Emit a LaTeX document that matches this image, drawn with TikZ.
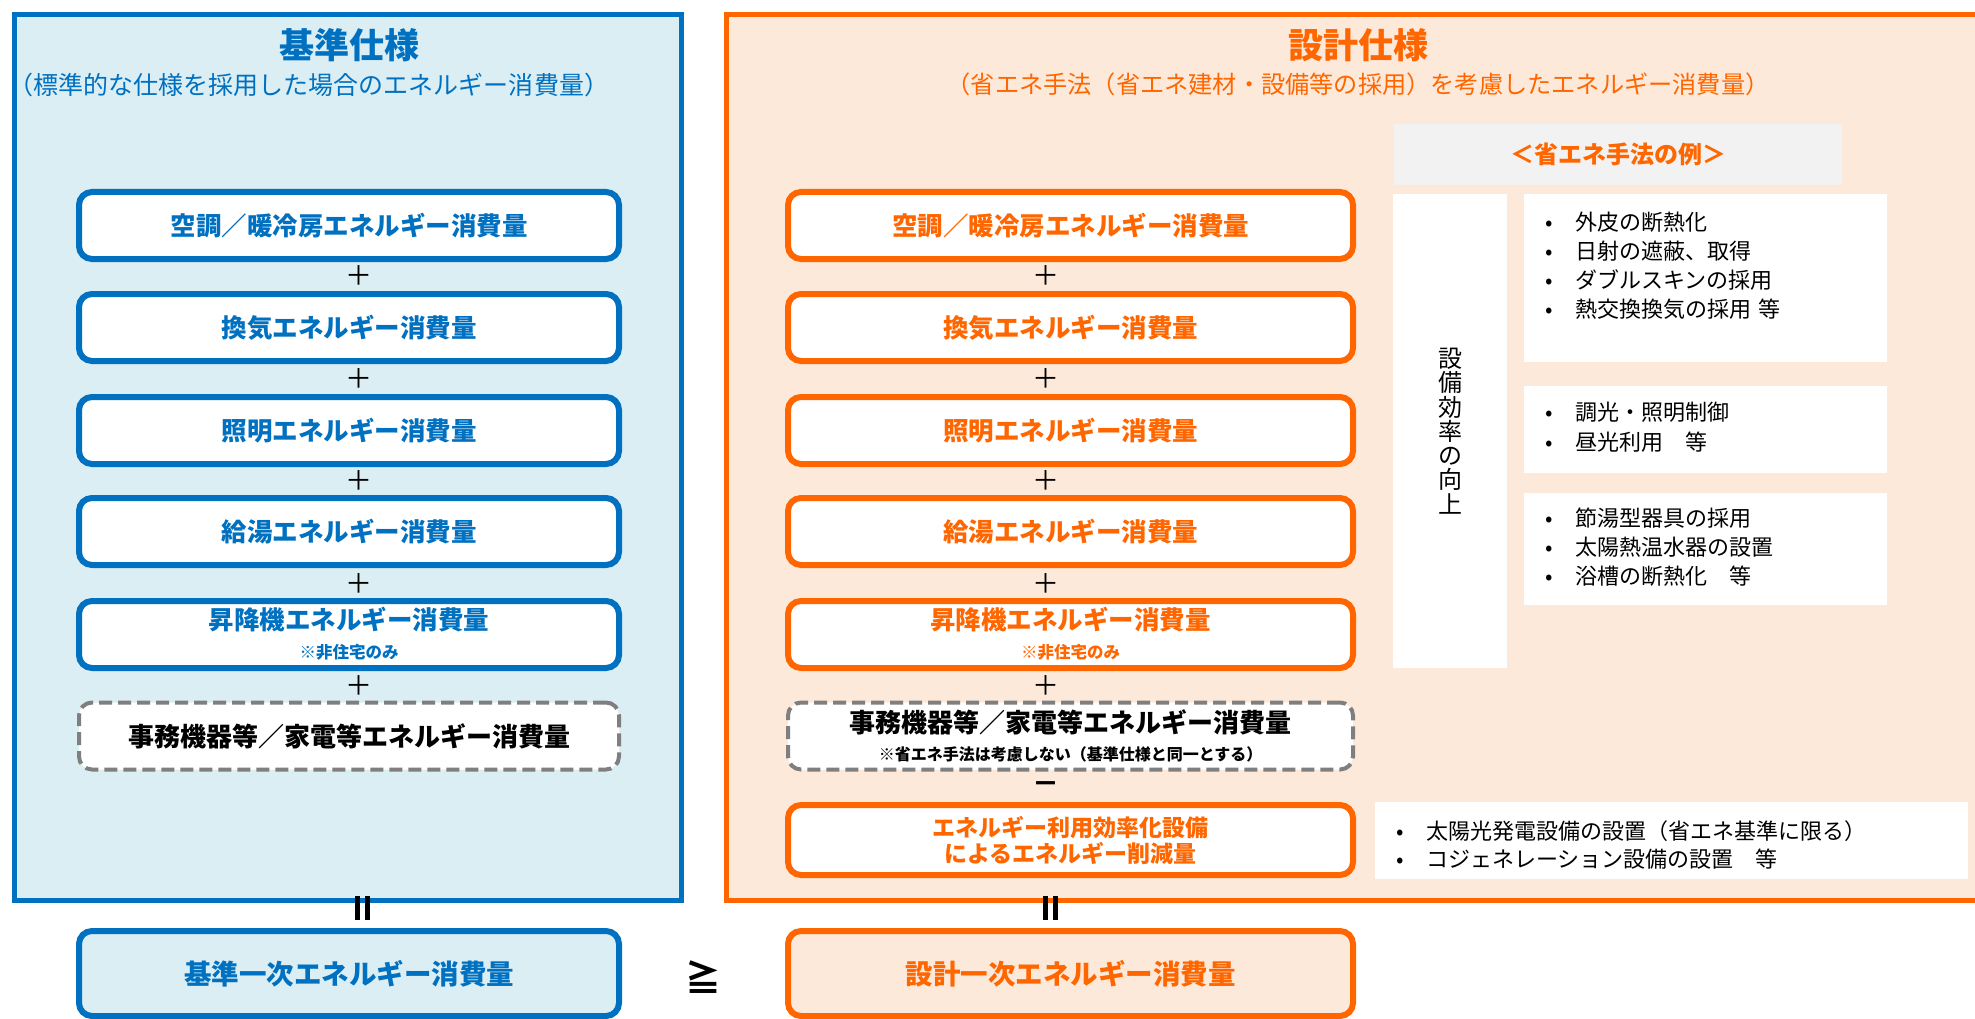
\documentclass[tikz,border=0pt]{standalone}
\usepackage{fontspec}
\setmainfont{Noto Sans CJK JP}
\definecolor{blueC}{HTML}{0070C0}
\definecolor{lblue}{HTML}{DAEEF3}
\definecolor{orangeC}{HTML}{FF6600}
\definecolor{lorange}{HTML}{FDE9D9}
\definecolor{grayD}{HTML}{7F7F7F}
\definecolor{grayF}{HTML}{F2F2F2}
\newcommand{\myfs}[1]{\fontsize{#1}{#1}\selectfont}
\newcommand{\bul}{\makebox[31pt][l]{\makebox[10pt]{•}}}
\newcommand{\vequal}{\rule{5pt}{24pt}\hspace{5pt}\rule{5pt}{24pt}}
\tikzset{
  panelL/.style={draw=blueC,line width=5pt,fill=lblue},
  panelR/.style={draw=orangeC,line width=5pt,fill=lorange},
  ebox/.style={line width=6pt,rounded corners=13pt,fill=white,minimum height=67pt,align=center,inner sep=0pt},
  boxL/.style={ebox,draw=blueC,text=blueC,minimum width=540pt,font=\myfs{25.5}\bfseries},
  boxR/.style={ebox,draw=orangeC,text=orangeC,minimum width=565pt,font=\myfs{25.5}\bfseries},
  dashbox/.style={ebox,draw=grayD,line width=4pt,dash pattern=on 13pt off 6pt,text=black,font=\myfs{26}\bfseries},
  subtxt/.style={inner sep=0pt,font=\myfs{16.5}\bfseries},
  plus/.style={inner sep=0pt,font=\myfs{27},text=black},
  eqs/.style={inner sep=0pt,text=black},
  exbox/.style={fill=white,inner sep=0pt},
  bl/.style={anchor=base west,inner sep=0pt,font=\myfs{22},text=black},
}
\begin{document}
\begin{tikzpicture}[x=1pt,y=-1pt]
\useasboundingbox (0,0) rectangle (1975,1019);
\clip (0,0) rectangle (1975,1019);
\fill[white] (0,0) rectangle (1975,1019);
% panels
\draw[panelL] (14.5,14.5) rectangle (681.5,900.5);
\draw[panelR] (726.5,14.5) rectangle (1995,900.5);
% titles
\node[inner sep=0pt,font=\myfs{35}\bfseries,text=blueC] (TL) at (349,45) {基準仕様};
\node[inner sep=0pt,font=\myfs{25},text=blueC] (STL) at (309,85) {（標準的な仕様を採用した場合のエネルギー消費量）};
\node[inner sep=0pt,font=\myfs{35}\bfseries,text=orangeC] (TR) at (1358,45) {設計仕様};
\node[inner sep=0pt,font=\myfs{24.2},text=orangeC] (STR) at (1358,84) {（省エネ手法（省エネ建材・設備等の採用）を考慮したエネルギー消費量）};
% left column
\node[boxL] (L1) at (349,225.5) {空調／暖冷房エネルギー消費量};
\node[boxL] (L2) at (349,327.5) {換気エネルギー消費量};
\node[boxL] (L3) at (349,430.5) {照明エネルギー消費量};
\node[boxL] (L4) at (349,531.5) {給湯エネルギー消費量};
\node[boxL] (L5) at (349,634.5) {};
\node[inner sep=0pt,font=\myfs{25.5}\bfseries,text=blueC] (L5a) at (349,620) {昇降機エネルギー消費量};
\node[subtxt,text=blueC] (L5b) at (349,652) {※非住宅のみ};
\node[dashbox,minimum width=540pt] (L6) at (349,736) {事務機器等／家電等エネルギー消費量};
\node[boxL,fill=lblue,minimum height=85pt,font=\myfs{27.5}\bfseries] (LF) at (349,973.5) {基準一次エネルギー消費量};
% right column
\node[boxR] (R1) at (1070.5,225.5) {空調／暖冷房エネルギー消費量};
\node[boxR] (R2) at (1070.5,327.5) {換気エネルギー消費量};
\node[boxR] (R3) at (1070.5,430.5) {照明エネルギー消費量};
\node[boxR] (R4) at (1070.5,531.5) {給湯エネルギー消費量};
\node[boxR] (R5) at (1070.5,634.5) {};
\node[inner sep=0pt,font=\myfs{25.5}\bfseries,text=orangeC] (R5a) at (1070.5,620) {昇降機エネルギー消費量};
\node[subtxt,text=orangeC] (R5b) at (1070.5,652) {※非住宅のみ};
\node[dashbox,minimum width=565pt] (R6) at (1070.5,736) {};
\node[inner sep=0pt,font=\myfs{26}\bfseries,text=black] (R6a) at (1070.5,722) {事務機器等／家電等エネルギー消費量};
\node[subtxt,font=\myfs{16}\bfseries,text=black] (R6b) at (1070.5,754) {※省エネ手法は考慮しない（基準仕様と同一とする）};
\node[boxR,minimum height=70pt,font=\fontsize{23}{26}\selectfont\bfseries] (R7) at (1070.5,840) {エネルギー利用効率化設備\\によるエネルギー削減量};
\node[boxR,fill=lorange,minimum height=85pt,font=\myfs{27.5}\bfseries] (RF) at (1070.5,973.5) {設計一次エネルギー消費量};
% operators
\foreach \yy [count=\i] in {276,379,481,584,686} {
  \node[plus] (pl\i) at (359,\yy) {＋};
  \node[plus] (pr\i) at (1046,\yy) {＋};
}
\node[plus,font=\myfs{27}\bfseries] (mn) at (1046,788) {－};
\node[eqs] (eqL) at (362.5,908) {\vequal};
\node[eqs] (eqR) at (1050,908) {\vequal};
\node[inner sep=0pt,font=\myfs{36}\bfseries,text=black] (geq) at (703,977) {≧};
% examples
\node[fill=grayF,inner sep=0pt,minimum width=448pt,minimum height=61pt,font=\myfs{24}\bfseries,text=orangeC] (exh) at (1618,154.5) {＜省エネ手法の例＞};
\node[exbox,minimum width=114pt,minimum height=474pt,align=center,font=\fontsize{24}{24.3}\selectfont] (vt) at (1450,431) {設\\備\\効\\率\\の\\向\\上};
\node[exbox,minimum width=363pt,minimum height=168pt] (ex1) at (1705.5,278) {};
\node[exbox,minimum width=363pt,minimum height=87pt] (ex2) at (1705.5,429.5) {};
\node[exbox,minimum width=363pt,minimum height=112pt] (ex3) at (1705.5,549) {};
\node[exbox,minimum width=593pt,minimum height=77pt] (ex4) at (1671.5,840.5) {};
\node[bl] (e1a) at (1544,230) {\bul 外皮の断熱化};
\node[bl] (e1b) at (1544,259) {\bul 日射の遮蔽、取得};
\node[bl] (e1c) at (1544,288) {\bul ダブルスキンの採用};
\node[bl] (e1d) at (1544,317) {\bul 熱交換換気の採用\hspace{7pt}等};
\node[bl] (e2a) at (1544,420) {\bul 調光・照明制御};
\node[bl] (e2b) at (1544,450) {\bul 昼光利用　等};
\node[bl] (e3a) at (1544,526) {\bul 節湯型器具の採用};
\node[bl] (e3b) at (1544,555) {\bul 太陽熱温水器の設置};
\node[bl] (e3c) at (1544,584) {\bul 浴槽の断熱化　等};
\node[bl] (e4a) at (1395,839) {\bul 太陽光発電設備の設置（省エネ基準に限る）};
\node[bl] (e4b) at (1395,867) {\bul コジェネレーション設備の設置　等};
\end{tikzpicture}
\end{document}
